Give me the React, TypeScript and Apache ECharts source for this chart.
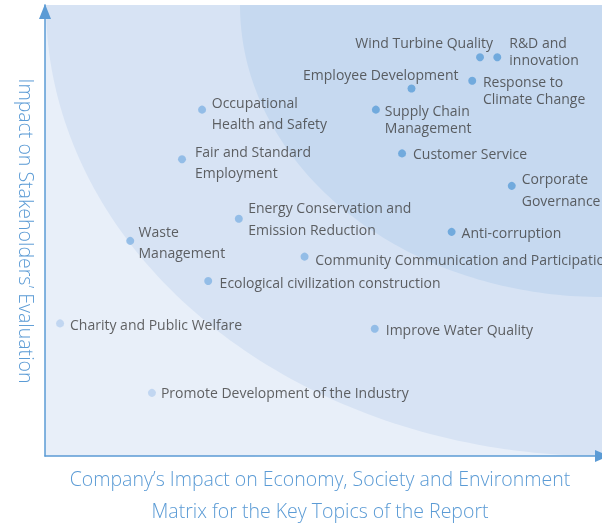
import { useEffect, useRef } from "react";
import * as echarts from "echarts";

// Topics (labels as shown, with line breaks)
const topics = [
  "Wind Turbine Quality",
  "R&D and\ninnovation",
  "Response to\nClimate Change",
  "Employee Development",
  "Supply Chain\nManagement",
  "Occupational\nHealth and Safety",
  "Customer Service",
  "Fair and Standard\nEmployment",
  "Corporate\nGovernance",
  "Energy Conservation and\nEmission Reduction",
  "Anti-corruption",
  "Waste\nManagement",
  "Community Communication and Participation",
  "Ecological civilization construction",
  "Charity and Public Welfare",
  "Improve Water Quality",
  "Promote Development of the Industry",
];

// Company's impact on economy, society and environment (x)
const companyImpact = [78.1, 81.2, 76.7, 65.8, 59.4, 28.2, 64.1, 24.6, 83.8, 34.8, 73.0, 15.3, 46.6, 29.3, 2.7, 59.2, 19.2];
// Impact on stakeholders' evaluation (y)
const stakeholderImpact = [88.4, 88.4, 83.2, 81.5, 76.8, 76.8, 67.1, 65.8, 59.9, 52.6, 49.7, 47.7, 44.2, 38.8, 29.4, 28.2, 14.0];
// Materiality tier (1 = highest)
const tiers = [1, 1, 1, 1, 1, 2, 1, 2, 1, 2, 1, 2, 2, 2, 3, 2, 3];

// Label placement: [side, offsetX, offsetY, lineHeight]
const labelPlacement: [string, number, number, number][] = [
  ["left", 17, -15, 17],
  ["right", 8, -6, 17],
  ["right", 6.7, 9, 17],
  ["left", 51, -14, 17],
  ["right", 5, 9, 17],
  ["right", 5.7, 3, 21],
  ["right", 7, 0, 17],
  ["right", 9, 2.4, 21],
  ["right", 6, 3.5, 22],
  ["right", 5.3, -0.5, 21.6],
  ["right", 6, 1, 17],
  ["right", 4.3, 1, 21.7],
  ["right", 6.7, 2.6, 17],
  ["right", 7.4, 1.7, 17],
  ["right", 6, 0.7, 17],
  ["right", 7, 0.3, 17],
  ["right", 5, 0, 17],
];

const xTitle = "Company\u2019s Impact on Economy, Society and Environment";
const chartTitle = "Matrix for the Key Topics of the Report";
const yTitle = "Impact on Stakeholders\u2019 Evaluation";

const tierColors: Record<number, string> = { 1: "#5b9dd8", 2: "#82b3e4", 3: "#b6cfef" };

const W = 602;
const H = 524;
const GL = 45;
const GT = 5;
const GR = 602;
const GB = 456;

function quarterEllipse(a: number, b: number): number[][] {
  const pts: number[][] = [[GR, GT]];
  for (let i = 0; i <= 90; i++) {
    const t = (i / 90) * (Math.PI / 2);
    pts.push([GR - a * Math.cos(t), GT + b * Math.sin(t)]);
  }
  return pts;
}

const titleFont = "300 19.5px 'Open Sans', sans-serif";

export default function App() {
  const ref = useRef<HTMLDivElement>(null);
  useEffect(() => {
    if (!ref.current) return;
    const chart = echarts.init(ref.current, null, { renderer: "svg" });
    const data = topics.map((name, i) => {
      const [side, ox, oy, lh] = labelPlacement[i];
      return {
        name,
        value: [companyImpact[i], stakeholderImpact[i]],
        itemStyle: { color: tierColors[tiers[i]] },
        label: {
          show: true,
          position: side,
          distance: 0,
          offset: [ox, oy],
          lineHeight: lh,
          formatter: "{b}",
          color: "#3c3c3c",
          fontSize: 14,
          fontFamily: "'Open Sans', sans-serif",
        },
      };
    });
    const axisCommon = {
      type: "value",
      min: 0,
      max: 100,
      axisTick: { show: false },
      axisLabel: { show: false },
      splitLine: { show: false },
    };
    const titleStyle = (text: string) => ({
      text,
      fill: "#5b9bd5",
      font: titleFont,
      textAlign: "center",
      textVerticalAlign: "middle",
      align: "center",
      verticalAlign: "middle",
    });
    chart.setOption({
      animation: false,
      grid: { left: GL, top: GT, right: W - GR, bottom: H - GB },
      xAxis: {
        ...axisCommon,
        axisLine: {
          show: true,
          lineStyle: { color: "#5b9bd5", width: 1.5 },
          symbol: ["none", "triangle"],
          symbolSize: [12, 14],
          symbolOffset: [0, 0],
        },
      },
      yAxis: {
        ...axisCommon,
        axisLine: {
          show: true,
          lineStyle: { color: "#5b9bd5", width: 1.5 },
          symbol: ["none", "triangle"],
          symbolSize: [12, 15],
          symbolOffset: [0, -6.5],
        },
      },
      graphic: [
        {
          type: "rect",
          z: -10,
          silent: true,
          shape: { x: GL, y: GT, width: GR - GL, height: GB - GT },
          style: { fill: "#e8eff9" },
        },
        {
          type: "polygon",
          z: -9,
          silent: true,
          shape: { points: quarterEllipse(556, 451) },
          style: { fill: "#d7e3f4" },
        },
        {
          type: "polygon",
          z: -8,
          silent: true,
          shape: { points: quarterEllipse(362, 292) },
          style: { fill: "#c6d9f0" },
        },
        {
          type: "text",
          x: 26,
          y: 231,
          rotation: -Math.PI / 2,
          style: titleStyle(yTitle),
        },
        {
          type: "text",
          x: 320,
          y: 478,
          style: titleStyle(xTitle),
        },
        {
          type: "text",
          x: 320,
          y: 510,
          style: titleStyle(chartTitle),
        },
      ],
      series: [
        {
          type: "scatter",
          symbolSize: 8,
          data,
          z: 5,
        },
      ],
    });
    return () => chart.dispose();
  }, []);
  return (
    <div
      ref={ref}
      style={{ position: "fixed", left: 0, top: 0, width: W, height: H }}
    />
  );
}
